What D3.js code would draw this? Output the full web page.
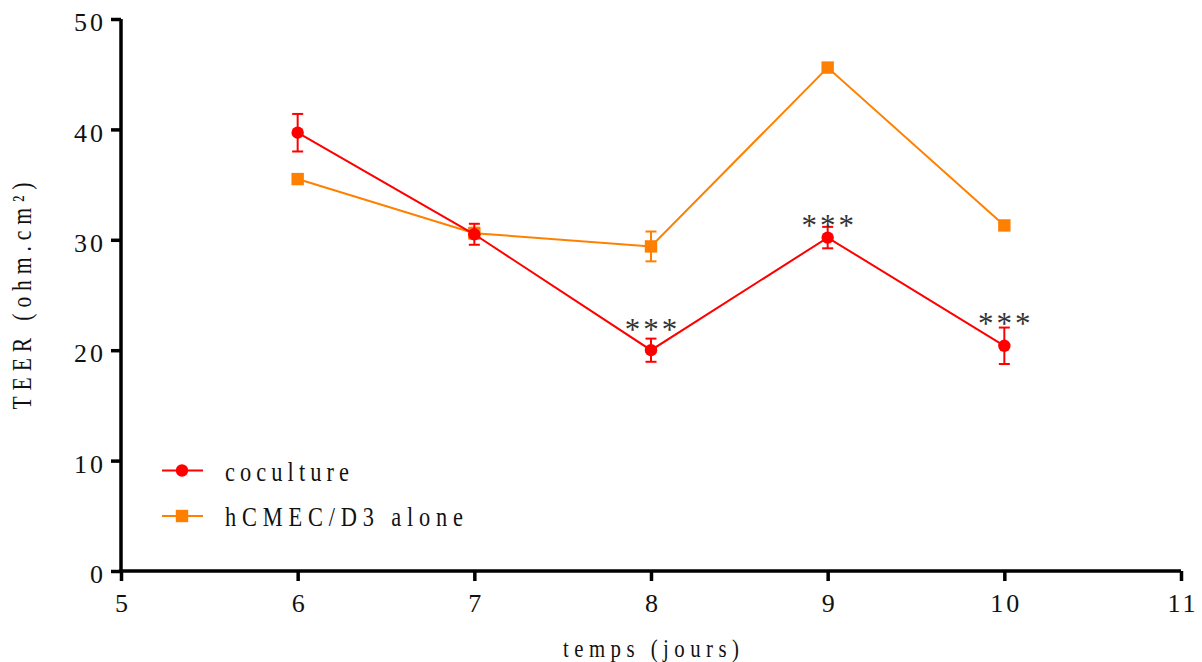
<!DOCTYPE html>
<html><head><meta charset="utf-8">
<script src="https://cdn.jsdelivr.net/npm/d3@7"></script>
<style>
body{margin:0;background:#fff;}
</style></head>
<body>
<svg id="chart" width="1202" height="662"></svg>
<script>
const days = [6, 7, 8, 9, 10];
const cocultureMean = [39.7, 30.5, 20.0, 30.2, 20.4];
const cocultureErr = [1.7, 0.95, 1.05, 0.97, 1.65];
const aloneMean = [35.5, 30.6, 29.4, 45.6, 31.3];
const aloneErr = [0.3, 0.5, 1.35, 0.35, 0.2];
const signifDays = [8, 9, 10];
const signifLevel = [22.5, 31.9, 23.0];
const xTicks = [5, 6, 7, 8, 9, 10, 11];
const yTicks = [0, 10, 20, 30, 40, 50];
const seriesNames = ["coculture", "hCMEC/D3 alone"];
const colors = ["#ff0000", "#ff8000"];

const FONT = "'Liberation Serif', 'Times New Roman', 'DejaVu Serif', serif";
const SX = 0.8;
const svg = d3.select("#chart");
const x = d3.scaleLinear().domain([5, 11]).range([121, 1181]);
const y = d3.scaleLinear().domain([0, 50]).range([571, 19]);

// condensed, letter-spaced serif text
function label(parent, tx, ty, rot, str, size, len, anchor) {
  const g = parent.append("g")
    .attr("transform", `translate(${tx},${ty})${rot ? " rotate(" + rot + ")" : ""} scale(${SX},1)`);
  g.append("text").attr("text-anchor", anchor)
    .attr("textLength", len / SX).attr("lengthAdjust", "spacing")
    .style("font-family", FONT).style("font-size", size + "px").style("fill", "#111")
    .text(str);
  return g;
}

// axes
const xAxis = svg.append("g").attr("transform", `translate(0,${y(0)})`)
  .call(d3.axisBottom(x).tickValues(xTicks).tickFormat(d3.format("d")).tickSize(10).tickPadding(13));
const yAxis = svg.append("g").attr("transform", `translate(${x(5)},0)`)
  .call(d3.axisLeft(y).tickValues(yTicks).tickFormat(d3.format("d")).tickSize(10).tickPadding(5));
[xAxis, yAxis].forEach(g => {
  g.select(".domain").attr("stroke", "#000").attr("stroke-width", 3.5);
  g.selectAll(".tick line").attr("stroke", "#000").attr("stroke-width", 3.5);
  g.selectAll(".tick text").style("font-family", FONT).style("font-size", "26px")
    .style("letter-spacing", "3px").style("fill", "#111");
});
xAxis.select(".domain").attr("d", `M${x(5) - 1.75},0H${x(11)}`);
yAxis.select(".domain").attr("d", `M0,${y(50)}V${y(0)}`);
xAxis.selectAll(".tick text").attr("dx", "1.5px");
yAxis.selectAll(".tick text").attr("dy", "0.45em");

// axis titles
label(svg, 651, 657, 0, "temps (jours)", 26, 176, "middle");
label(svg, 31, 296, -90, "TEER (ohm.cm²)", 27, 227, "middle");

const line = d3.line().x((d, i) => x(days[i])).y(d => y(d));

function drawSeries(means, errs, color, shape) {
  const g = svg.append("g");
  g.append("path").datum(means).attr("d", line).attr("fill", "none")
    .attr("stroke", color).attr("stroke-width", 2);
  means.forEach((m, i) => {
    const cx = x(days[i]);
    const top = y(m + errs[i]), bot = y(m - errs[i]);
    g.append("line").attr("x1", cx).attr("x2", cx).attr("y1", top).attr("y2", bot)
      .attr("stroke", color).attr("stroke-width", 2);
    [top, bot].forEach(v => g.append("line").attr("x1", cx - 5.5).attr("x2", cx + 5.5)
      .attr("y1", v).attr("y2", v).attr("stroke", color).attr("stroke-width", 2));
    if (shape === "circle") {
      g.append("circle").attr("cx", cx).attr("cy", y(m)).attr("r", 6.2).attr("fill", color);
    } else {
      g.append("rect").attr("x", cx - 6.2).attr("y", y(m) - 6.2).attr("width", 12.4).attr("height", 12.4).attr("fill", color);
    }
  });
}
drawSeries(aloneMean, aloneErr, colors[1], "square");
drawSeries(cocultureMean, cocultureErr, colors[0], "circle");

// significance stars (centred on level)
signifDays.forEach((dd, k) => {
  svg.append("text").attr("x", x(dd) + 1.5).attr("y", y(signifLevel[k]) + 17)
    .attr("text-anchor", "middle")
    .style("font-family", FONT).style("font-size", "31px").style("letter-spacing", "3px")
    .style("fill", "#333").text("***");
});

// legend
const legend = svg.append("g");
const legendLen = [124, 238];
seriesNames.forEach((name, i) => {
  const ly = 470.5 + i * 45.5;
  legend.append("line").attr("x1", 162).attr("x2", 203).attr("y1", ly).attr("y2", ly)
    .attr("stroke", colors[i]).attr("stroke-width", 2);
  if (i === 0) legend.append("circle").attr("cx", 182).attr("cy", ly).attr("r", 6.2).attr("fill", colors[i]);
  else legend.append("rect").attr("x", 175.8).attr("y", ly - 6.2).attr("width", 12.4).attr("height", 12.4).attr("fill", colors[i]);
  label(legend, 225, ly + 10, 0, name, 28, legendLen[i], "start");
});
</script>
</body></html>
